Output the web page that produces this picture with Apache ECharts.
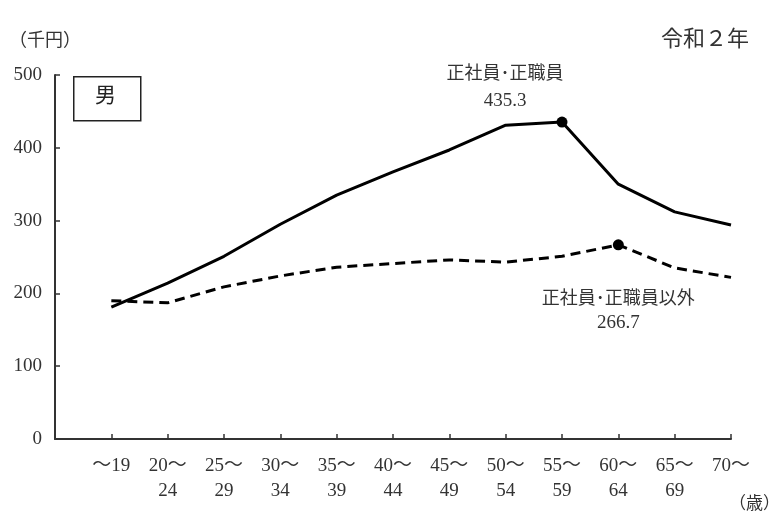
<!DOCTYPE html>
<html>
<head>
<meta charset="utf-8">
<script src="https://cdn.jsdelivr.net/npm/echarts@6/dist/echarts.min.js"></script>
<style>
  html, body { margin: 0; padding: 0; background: #fff; }
  #chart { width: 773px; height: 525px; }
</style>
</head>
<body>
<div id="chart"></div>
<script>
// age groups (first slot empty so the y axis sits one step left of ~19)
var ageGroups = ['', '～19', '20～\n24', '25～\n29', '30～\n34', '35～\n39', '40～\n44',
  '45～\n49', '50～\n54', '55～\n59', '60～\n64', '65～\n69', '70～']
// 正社員・正職員 (千円)
var regular = [null, 181, 214, 251, 295, 335, 367, 397, 431, 435.3, 350, 312, 294]
// 正社員・正職員以外 (千円)
var nonRegular = [null, 190, 187, 209, 224, 236, 241, 246, 243, 251, 266.7, 235, 222]
var yTicks = [0, 100, 200, 300, 400, 500]

var regularPeak = 9
var nonRegularPeak = 10

var serif = '"Liberation Serif", "DejaVu Serif", "Noto Sans CJK JP", serif'
var textColor = '#333'

function markSize(idx) {
  return function (val, params) {
    return params.dataIndex === idx ? 11 : 0
  }
}

function withLabel(arr, idx, label) {
  return arr.map(function (v, i) {
    if (i !== idx) return v
    return { value: v, label: label }
  })
}

var chart = echarts.init(document.getElementById('chart'))
chart.setOption({
  animation: false,
  backgroundColor: '#fff',
  grid: { left: 55, right: 42, top: 75, bottom: 86 },
  xAxis: {
    type: 'category',
    data: ageGroups,
    boundaryGap: false,
    axisLine: { lineStyle: { color: '#333', width: 2 } },
    axisTick: { inside: true, length: 5, lineStyle: { color: '#333', width: 1.5 } },
    axisLabel: {
      interval: 0,
      margin: 15,
      color: textColor,
      fontFamily: serif,
      fontSize: 19,
      lineHeight: 25
    }
  },
  yAxis: {
    type: 'value',
    min: yTicks[0],
    max: yTicks[yTicks.length - 1],
    interval: 100,
    splitLine: { show: false },
    axisLine: { show: true, lineStyle: { color: '#333', width: 2 } },
    axisTick: { show: true, inside: true, length: 5, lineStyle: { color: '#333', width: 1.5 } },
    axisLabel: { margin: 13, color: textColor, fontFamily: serif, fontSize: 19 }
  },
  graphic: [
    { type: 'text', left: 9, top: 32,
      style: { text: '（千円）', fontFamily: serif, fontSize: 18, fill: textColor } },
    { type: 'text', right: 24, top: 29,
      style: { text: '令和２年', fontFamily: serif, fontSize: 22, fill: textColor } },
    { type: 'rect', left: 73, top: 76, shape: { width: 67, height: 44 },
      style: { fill: '#fff', stroke: '#222', lineWidth: 1.5 } },
    { type: 'text', left: 95, top: 86,
      style: { text: '男', fontFamily: serif, fontSize: 21, fill: '#222' } },
    { type: 'text', left: 729, top: 496,
      style: { text: '（歳）', fontFamily: serif, fontSize: 17, fill: textColor } }
  ],
  series: [
    {
      name: '正社員・正職員',
      type: 'line',
      data: withLabel(regular, regularPeak, {
        show: true,
        position: 'top',
        offset: [-57, 3],
        color: textColor,
        fontFamily: serif,
        fontSize: 18,
        lineHeight: 27,
        formatter: '正社員･正職員\n{num|{c}}',
        rich: { num: { fontFamily: serif, fontSize: 19, color: textColor, lineHeight: 27 } }
      }),
      symbol: 'circle',
      symbolSize: markSize(regularPeak),
      itemStyle: { color: '#000' },
      lineStyle: { color: '#000', width: 3 },
      z: 3
    },
    {
      name: '正社員・正職員以外',
      type: 'line',
      data: withLabel(nonRegular, nonRegularPeak, {
        show: true,
        position: 'bottom',
        offset: [0, 32],
        color: textColor,
        fontFamily: serif,
        fontSize: 18,
        lineHeight: 24,
        formatter: '正社員･正職員以外\n{num|{c}}',
        rich: { num: { fontFamily: serif, fontSize: 19, color: textColor, lineHeight: 24 } }
      }),
      symbol: 'circle',
      symbolSize: markSize(nonRegularPeak),
      itemStyle: { color: '#000' },
      lineStyle: { color: '#000', width: 3, type: [10, 6] },
      z: 2
    }
  ]
})
</script>
</body>
</html>
